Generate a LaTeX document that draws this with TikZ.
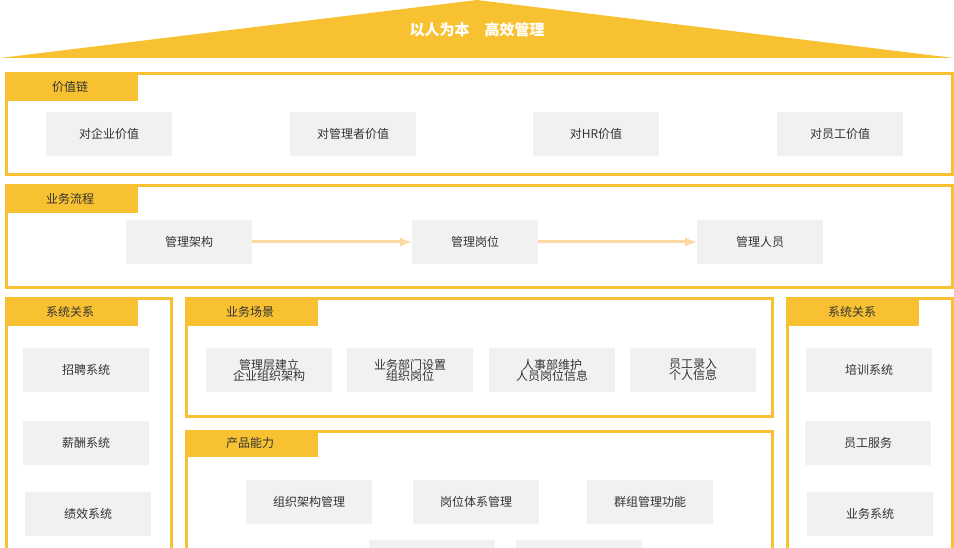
\documentclass[tikz,border=0pt]{standalone}
\usepackage{fontspec}
\setmainfont{Noto Sans CJK SC}
\usetikzlibrary{positioning}
\definecolor{gold}{HTML}{F8C132}
\definecolor{boxgray}{HTML}{F2F1F2}
\definecolor{arrowor}{HTML}{FDD8A0}
\definecolor{txt}{HTML}{333333}

\begin{document}
\begin{tikzpicture}[
      x=1pt,y=-1pt,
      item/.style={fill=boxgray,minimum width=126,minimum height=44,inner sep=0,
        font=\fontsize{12}{14}\selectfont,text=txt,align=center},
      frame/.style={draw=gold,line width=3},
      tab/.style={fill=gold,font=\fontsize{12}{14}\selectfont,text=txt},
      flow/.style={draw=arrowor,line width=3,-latex}
    ]
    \useasboundingbox (0,0) rectangle (954,548);
    \clip (0,0) rectangle (954,548);
    % roof
    \fill[gold] (0,58) -- (477,0) -- (954,58) -- cycle;
    \node[text=white,font=\bfseries\fontsize{15}{18}\selectfont] (title) at (477,30) {以人为本\quad 高效管理};
    % frames
    \draw[frame] (6,74) rectangle (952,175);
    \draw[frame] (6,186) rectangle (952,288);
    \draw[frame] (6,299) rectangle (171,560);
    \draw[frame] (186,299) rectangle (772,416);
    \draw[frame] (186,431) rectangle (772,560);
    \draw[frame] (787,299) rectangle (952,560);
    % tabs
    \fill[gold] (5,73) rectangle (138,101);
    \fill[gold] (5,185) rectangle (138,213);
    \fill[gold] (5,298) rectangle (138,326);
    \fill[gold] (185,298) rectangle (318,326);
    \fill[gold] (185,430) rectangle (318,457);
    \fill[gold] (786,298) rectangle (919,326);
    \begin{scope}[every node/.style={font=\fontsize{12}{14}\selectfont,text=txt}]
      \node (t1) at (70,87) {价值链};
      \node (t2) at (70,199) {业务流程};
      \node (t3) at (70,312) {系统关系};
      \node (t4) at (250,312) {业务场景};
      \node (t5) at (250,443) {产品能力};
      \node (t6) at (852,312) {系统关系};
    \end{scope}
    % value chain
    \node[item] (v1) at (109,134) {对企业价值};
    \node[item] (v2) at (353,134) {对管理者价值};
    \node[item] (v3) at (596,134) {对HR价值};
    \node[item] (v4) at (840,134) {对员工价值};
    % process
    \node[item] (p1) at (189,242) {管理架构};
    \node[item] (p2) at (475,242) {管理岗位};
    \node[item] (p3) at (760,242) {管理人员};
    \draw[flow] (p1) -- (p2);
    \draw[flow] (p2) -- (p3);
    % left systems
    \node[item] (l1) at (86,370) {招聘系统};
    \node[item] (l2) at (86,443) {薪酬系统};
    \node[item] (l3) at (88,514) {绩效系统};
    % scenes
    \node[item] (s1) at (269,370) {管理层建立\\[-3pt]企业组织架构};
    \node[item] (s2) at (410,370) {业务部门设置\\[-3pt]组织岗位};
    \node[item] (s3) at (552,370) {人事部维护\\[-3pt]人员岗位信息};
    \node[item] (s4) at (693,370) {员工录入\\[-3pt]个人信息};
    % product
    \node[item] (c1) at (309,502) {组织架构管理};
    \node[item] (c2) at (476,502) {岗位体系管理};
    \node[item] (c3) at (650,502) {群组管理功能};
    \node[item] (c4) at (432,562) {};
    \node[item] (c5) at (579,562) {};
    % right systems
    \node[item] (r1) at (869,370) {培训系统};
    \node[item] (r2) at (868,443) {员工服务};
    \node[item] (r3) at (870,514) {业务系统};
  \end{tikzpicture}
\end{document}
